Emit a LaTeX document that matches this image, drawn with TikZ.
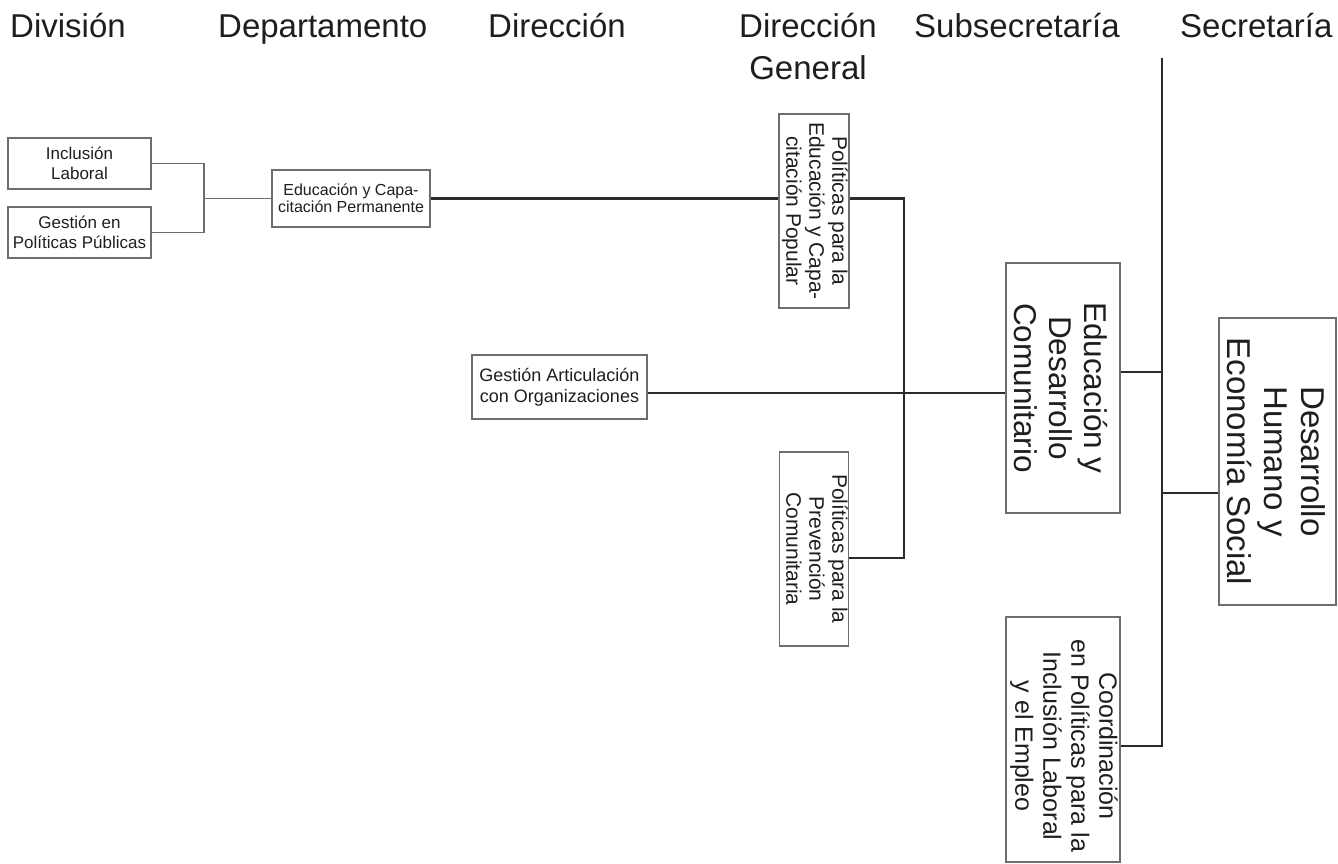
\documentclass[tikz,border=0pt]{standalone}
\usepackage{fontspec}
\setmainfont{Liberation Sans}
\usepackage{graphicx}
\definecolor{boxgray}{HTML}{6E6E6E}
\definecolor{linegray}{HTML}{2B2B2B}
\definecolor{inkgray}{HTML}{1E1E1E}
\newcommand{\vlines}[1]{\rotatebox{-90}{\begin{tabular}{@{}c@{}}#1\end{tabular}}}

\begin{document}
\begin{tikzpicture}[x=1pt,y=-1pt,text=inkgray,
    hdr/.style={anchor=base west,inner sep=0pt,font=\fontsize{33}{42}\selectfont},
    unit/.style={draw=boxgray,line width=1.1pt,inner sep=0pt,align=center},
    link/.style={draw=linegray,line width=2.8pt},
    thinlink/.style={draw=boxgray,line width=1.1pt}]
    \useasboundingbox (0,0) rectangle (1338,864);

    \node[hdr] (hdiv) at (10,38) {División};
    \node[hdr] (hdep) at (218,38) {Departamento};
    \node[hdr] (hdir) at (488,38) {Dirección};
    \node[hdr,anchor=base,align=center] (hdg) at (808,80) {Dirección\\General};
    \node[hdr] (hsub) at (914,38) {Subsecretaría};
    \node[hdr] (hsec) at (1180,38) {Secretaría};

    \node[unit,minimum width=143pt,minimum height=51pt,font=\fontsize{17}{20}\selectfont] (incl) at (79.5,163.5) {Inclusión\\Laboral};
    \node[unit,minimum width=143pt,minimum height=51pt,font=\fontsize{17}{20}\selectfont] (gpp) at (79.5,232.5) {Gestión en\\Políticas Públicas};
    \node[unit,minimum width=158pt,minimum height=57pt,font=\fontsize{16}{17}\selectfont] (ecp) at (351,198.5) {Educación y Capa-\\citación Permanente};
    \node[unit,minimum width=175pt,minimum height=64pt,font=\fontsize{18}{21}\selectfont] (ga) at (559.5,387) {Gestión Articulación\\con Organizaciones};

    \node[unit,minimum width=70pt,minimum height=194pt,font=\fontsize{21}{23}\selectfont] (p1) at (814,211) {\vlines{Políticas para la\\Educación y Capa-\\citación Popular}};
    \node[unit,minimum width=68pt,minimum height=194pt,font=\fontsize{21}{23}\selectfont] (p2) at (814,549) {\vlines{Políticas para la\\Prevención\\Comunitaria}};

    \node[unit,minimum width=114pt,minimum height=250pt,font=\fontsize{31.5}{35}\selectfont] (sub) at (1063,388) {\hspace*{-14pt}\vlines{Educación y\\Desarrollo\\Comunitario}};
    \node[unit,minimum width=114pt,minimum height=245pt,font=\fontsize{25}{28}\selectfont] (coor) at (1063,739.5) {\raisebox{-6.5pt}[\height][\depth]{\vlines{Coordinación\\en Políticas para la\\Inclusión Laboral\\y el Empleo}}};
    \node[unit,minimum width=117pt,minimum height=287pt,font=\fontsize{33}{37}\selectfont] (des) at (1277.5,461.5) {\hspace*{-11pt}\vlines{Desarrollo\\Humano y\\Economía Social}};

    \coordinate (jdiv) at (204,198.5);
    \draw[thinlink] (incl.east) -| (jdiv) |- (gpp.east);
    \draw[thinlink] (jdiv) -- (ecp.west);
    \draw[link] (ecp.east) -- (ecp.east -| p1.west);

    \coordinate (jdg) at (904,393);
    \draw[link] (p1.east |- ecp.east) -| (jdg) |- ([yshift=-9pt]p2.east);
    \draw[link] ([yshift=-6pt]ga.east) -- ([yshift=-5pt]sub.west);

    \coordinate (stop) at (1162,58);
    \coordinate (sbot) at (1162,746);
    \draw[link] (stop) -- (sbot) -- (sbot -| coor.east);
    \draw[link] ([yshift=16pt]sub.east) -- ([yshift=16pt]sub.east -| stop);
    \draw[link] ([yshift=-31.5pt]des.west) -- ([yshift=-31.5pt]des.west -| stop);
\end{tikzpicture}
\end{document}
